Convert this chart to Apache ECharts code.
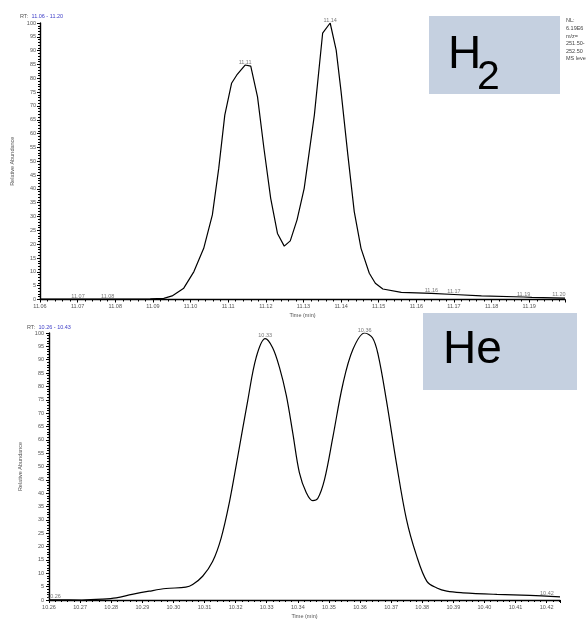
<!DOCTYPE html>
<html>
<head>
<meta charset="utf-8">
<script src="https://cdn.jsdelivr.net/npm/echarts@6.0.0/dist/echarts.min.js"></script>
<style>
  html, body { margin: 0; padding: 0; background: #fff; }
  #chart { width: 586px; height: 620px; }
</style>
</head>
<body>
<div id="chart"></div>
<script>
// H2 carrier gas chromatogram: retention time (min) and relative abundance (%)
const h2Times = [11.0600, 11.0700, 11.0800, 11.0893, 11.0929, 11.0951, 11.0982, 11.1009, 11.1035, 11.1058,
                 11.1075, 11.1091, 11.1109, 11.1123, 11.1145, 11.1160, 11.1178, 11.1195, 11.1213, 11.1231,
                 11.1249, 11.1265, 11.1283, 11.1302, 11.1329, 11.1351, 11.1371, 11.1387, 11.1400, 11.1418,
                 11.1435, 11.1453, 11.1475, 11.1491, 11.1511, 11.1560, 11.1640, 11.1700, 11.1773, 11.1885,
                 11.1907, 11.1995];
const h2Abund = [0.1, 0.1, 0.1, 0.2, 0.4, 1.3, 4.1, 10.1, 18.5, 30.6,
                 47.5, 66.7, 78.2, 81.2, 84.8, 84.4, 73.3, 54.7, 36.6, 23.9,
                 19.3, 21.2, 28.8, 40.2, 66.7, 96.3, 100, 90.2, 75.2, 52.3,
                 31.8, 18.5, 9.5, 5.9, 3.8, 2.6, 2.2, 1.8, 1.3, 0.9,
                 0.8, 0.5];
// apex times annotated on the H2 trace
const h2Apex = [11.0701, 11.0780, 11.1145, 11.1371, 11.1640, 11.1700, 11.1885, 11.1979];

// He carrier gas chromatogram
const heTimes = [10.2600, 10.2706, 10.2771, 10.2816, 10.2867, 10.2922, 10.2976, 10.3040, 10.3062, 10.3094,
                 10.3126, 10.3153, 10.3180, 10.3207, 10.3239, 10.3266, 10.3295, 10.3319, 10.3341, 10.3363,
                 10.3384, 10.3405, 10.3427, 10.3448, 10.3464, 10.3486, 10.3513, 10.3545, 10.3577, 10.3615,
                 10.3640, 10.3658, 10.3685, 10.3717, 10.3749, 10.3781, 10.3815, 10.3847, 10.3879, 10.3931,
                 10.4040, 10.4146, 10.4243];
const heAbund = [0.1, 0.0, 0.3, 0.8, 2.1, 3.3, 4.3, 4.8, 5.8, 8.9,
                 14.4, 23.0, 36.6, 53.8, 74.7, 90.8, 97.9, 94.5, 87.1, 76.6,
                 62.4, 47.7, 40.3, 37.2, 38.0, 45.2, 61.2, 80.9, 93.8, 100,
                 98.2, 92.0, 74.7, 51.3, 30.4, 16.9, 7.0, 4.5, 3.3, 2.7,
                 2.1, 1.7, 1.2];
const heApex = [10.2616, 10.3295, 10.3615, 10.4201];

const h2Range = [11.06, 11.1995];
const heRange = [10.26, 10.4243];
const h2Header = 'RT: 11.06 - 11.20';
const heHeader = 'RT: 10.26 - 10.43';
const h2Info = ['NL:', '6.19E6', 'm/z=', '251.50-', '252.50', 'MS level'];

const FONT = '"Liberation Sans", Arial, sans-serif';

function interp(ts, vs, t) {
  if (t <= ts[0]) return vs[0];
  for (let i = 1; i < ts.length; i++) {
    if (t <= ts[i]) {
      const f = (t - ts[i - 1]) / (ts[i] - ts[i - 1]);
      return vs[i - 1] + f * (vs[i] - vs[i - 1]);
    }
  }
  return vs[vs.length - 1];
}

function onHundredth(v) {
  return Math.abs(v * 100 - Math.round(v * 100)) < 1e-6;
}

function xAxis(gi, range) {
  return {
    type: 'value', gridIndex: gi, min: range[0], max: range[1], interval: 0.01,
    name: 'Time (min)', nameLocation: 'middle', nameGap: 13,
    nameTextStyle: { fontSize: 5.5, color: '#555', fontFamily: FONT },
    axisLine: { onZero: false, lineStyle: { color: '#000', width: 1.4 } },
    axisTick: { show: true, length: 3, lineStyle: { color: '#000', width: 1 } },
    minorTick: { show: true, splitNumber: 5, length: 2, lineStyle: { color: '#000', width: 1 } },
    splitLine: { show: false },
    axisLabel: {
      fontSize: 5.5, color: '#555', margin: 4, fontFamily: FONT,
      showMinLabel: true, showMaxLabel: false,
      formatter: v => onHundredth(v) ? v.toFixed(2) : ''
    }
  };
}

function yAxis(gi, gap, margin) {
  return {
    type: 'value', gridIndex: gi, min: 0, max: 100, interval: 5,
    name: 'Relative Abundance', nameLocation: 'middle', nameGap: gap,
    nameTextStyle: { fontSize: 5.5, color: '#555', fontFamily: FONT },
    axisLine: { show: true, onZero: false, lineStyle: { color: '#000', width: 1.4 } },
    axisTick: { show: true, length: 3, lineStyle: { color: '#000', width: 1 } },
    minorTick: { show: true, splitNumber: 5, length: 2, lineStyle: { color: '#000', width: 1 } },
    splitLine: { show: false },
    axisLabel: { fontSize: 5.5, color: '#555', margin: margin, fontFamily: FONT }
  };
}

function trace(gi, ts, vs, smooth) {
  return {
    type: 'line', xAxisIndex: gi, yAxisIndex: gi,
    data: ts.map((t, i) => [t, vs[i]]),
    showSymbol: false, smooth: smooth, silent: true,
    lineStyle: { color: '#000', width: 1.2 },
    z: 3
  };
}

function apexLabels(gi, ts, vs, apex) {
  return {
    type: 'scatter', xAxisIndex: gi, yAxisIndex: gi,
    data: apex.map(t => [t, interp(ts, vs, t)]),
    symbolSize: 0, silent: true,
    label: {
      show: true, position: 'top', distance: 0,
      fontSize: 5.5, color: '#555', fontFamily: FONT,
      formatter: p => p.value[0].toFixed(2)
    },
    z: 4
  };
}

const chart = echarts.init(document.getElementById('chart'), null, { renderer: 'canvas' });

chart.setOption({
  animation: false,
  backgroundColor: '#fff',
  grid: [
    { left: 40, right: 21, top: 23, bottom: 320.5 },
    { left: 49, right: 26, top: 333, bottom: 16 }
  ],
  xAxis: [xAxis(0, h2Range), xAxis(1, heRange)],
  yAxis: [yAxis(0, 15, 4), yAxis(1, 16, 5)],
  series: [
    trace(0, h2Times, h2Abund, false),
    apexLabels(0, h2Times, h2Abund, h2Apex),
    trace(1, heTimes, heAbund, 0.35),
    apexLabels(1, heTimes, heAbund, heApex)
  ],
  graphic: [
    // run headers
    {
      type: 'text', left: 20, top: 10,
      style: {
        text: '{a|RT:} {b|' + h2Header.slice(4) + '}',
        rich: {
          a: { fontSize: 5.5, fill: '#555', fontFamily: FONT },
          b: { fontSize: 5.5, fill: '#4040c8', fontFamily: FONT }
        }
      }
    },
    {
      type: 'text', left: 27, top: 321,
      style: {
        text: '{a|RT:} {b|' + heHeader.slice(4) + '}',
        rich: {
          a: { fontSize: 5.5, fill: '#555', fontFamily: FONT },
          b: { fontSize: 5.5, fill: '#4040c8', fontFamily: FONT }
        }
      }
    },
    // scan info for the H2 run
    {
      type: 'text', left: 566, top: 17,
      style: {
        text: h2Info.join('\n'), fontSize: 5.5, lineHeight: 7.6,
        fill: '#444', fontFamily: FONT
      }
    },
    // carrier gas tags
    {
      type: 'rect', shape: { x: 429, y: 16, width: 131, height: 78 },
      style: { fill: '#c5d0e0' }, z: 10
    },
    {
      type: 'text', z: 11,
      style: { x: 448, y: 55, text: 'H', fontSize: 46, fill: '#000', fontFamily: FONT, verticalAlign: 'middle' }
    },
    {
      type: 'text', z: 11,
      style: { x: 477, y: 78, text: '2', fontSize: 41, fill: '#000', fontFamily: FONT, verticalAlign: 'middle' }
    },
    {
      type: 'rect', shape: { x: 423, y: 313, width: 154, height: 77 },
      style: { fill: '#c5d0e0' }, z: 10
    },
    {
      type: 'text', z: 11,
      style: { x: 443, y: 350, text: 'He', fontSize: 46, fill: '#000', fontFamily: FONT, verticalAlign: 'middle' }
    }
  ]
});
</script>
</body>
</html>
